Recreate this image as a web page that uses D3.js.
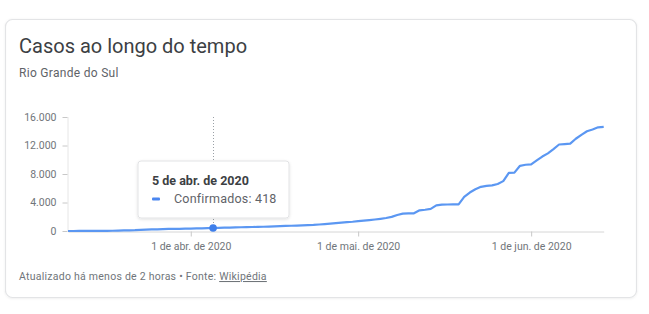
<!DOCTYPE html>
<html>
<head>
<meta charset="utf-8">
<script src="https://cdn.jsdelivr.net/npm/d3@7"></script>
<style>
  html, body { margin: 0; padding: 0; background: #fff; }
  svg { display: block; font-family: Roboto, "Noto Sans", Arial, sans-serif; }
</style>
</head>
<body>
<svg id="chart" width="649" height="314"></svg>
<script>
// Confirmed cases in Rio Grande do Sul, one value per day from 10 Mar 2020
const startDate = "2020-03-10";
const confirmed = [
  1, 2, 4, 6, 9, 14, 19, 28, 37, 56,
  77, 86, 114, 168, 197, 227, 241, 272, 287, 294,
  305, 330, 346, 359, 376, 399, 418, 436, 461, 487,
  510, 526, 544, 560, 571, 598, 622, 656, 684, 713,
  734, 759, 790, 814, 852, 909, 961, 1024, 1098, 1174,
  1237, 1302, 1389, 1460, 1528, 1612, 1711, 1825, 1981, 2250,
  2440, 2460, 2480, 2900, 2980, 3100, 3600, 3700, 3720, 3730,
  3740, 4800, 5400, 5850, 6200, 6330, 6400, 6600, 7000, 8150,
  8200, 9150, 9300, 9350, 9900, 10450, 10900, 11500, 12140, 12200,
  12260, 12950, 13500, 14000, 14250, 14550, 14620
];

const yTickValues = [0, 4000, 8000, 12000, 16000];
const yTickLabels = ["0", "4.000", "8.000", "12.000", "16.000"];
const xTickDates = ["2020-04-01", "2020-05-01", "2020-06-01"];
const xTickLabels = ["1 de abr. de 2020", "1 de mai. de 2020", "1 de jun. de 2020"];

const tooltipDate = "2020-04-05";
const tooltipTitle = "5 de abr. de 2020";
const seriesName = "Confirmados";

const parse = d3.utcParse("%Y-%m-%d");
const t0 = parse(startDate);
const data = confirmed.map((v, i) => ({ date: d3.utcDay.offset(t0, i), value: v }));

const svg = d3.select("#chart");

// Card with a soft shadow
const defs = svg.append("defs");
const cs = defs.append("filter").attr("id", "cardShadow").attr("x", "-5%").attr("y", "-5%").attr("width", "110%").attr("height", "115%");
cs.append("feDropShadow").attr("dx", 0).attr("dy", 0.5).attr("stdDeviation", 1)
  .attr("flood-color", "#000").attr("flood-opacity", 0.08);

svg.append("rect")
  .attr("x", 5.5).attr("y", 19.5).attr("width", 631).attr("height", 278)
  .attr("rx", 7).attr("fill", "#fff").attr("stroke", "#e3e4e6").attr("stroke-width", 1.2)
  .attr("filter", "url(#cardShadow)");

svg.append("text").attr("x", 19).attr("y", 53)
  .attr("font-size", 20).attr("fill", "#3c4043")
  .text("Casos ao longo do tempo");
svg.append("text").attr("x", 19).attr("y", 77)
  .attr("font-size", 12).attr("letter-spacing", 0.3).attr("fill", "#5f6368")
  .text("Rio Grande do Sul");

const x = d3.scaleUtc()
  .domain([data[0].date, data[data.length - 1].date])
  .range([68, 603.7]);
const y = d3.scaleLinear().domain([0, 16000]).range([231, 117]);

// Y axis
const yAxis = d3.axisLeft(y)
  .tickValues(yTickValues)
  .tickFormat((d, i) => yTickLabels[i])
  .tickSize(5).tickPadding(6);
const gy = svg.append("g").attr("transform", "translate(67.5,0)").call(yAxis);
gy.select(".domain").attr("stroke", "#e6e6e6").attr("d", `M0.5,${y(16000)}V${y(0)}`);
gy.selectAll(".tick line").attr("stroke", "#c8c8c8");
gy.selectAll(".tick text").attr("font-size", 10.5).attr("fill", "#70757a")
  .attr("font-family", "Roboto, sans-serif");

// X axis
const xAxis = d3.axisBottom(x)
  .tickValues(xTickDates.map(parse))
  .tickFormat((d, i) => xTickLabels[i])
  .tickSize(5).tickPadding(6).tickSizeOuter(0);
const gx = svg.append("g").attr("transform", "translate(0,231.5)").call(xAxis);
gx.select(".domain").attr("stroke", "#d6d6d6");
gx.selectAll(".tick line").attr("stroke", "#c8c8c8");
gx.selectAll(".tick text").attr("font-size", 10.5).attr("fill", "#70757a")
  .attr("font-family", "Roboto, sans-serif");

// Hover guide
const hx = x(parse(tooltipDate));
svg.append("line")
  .attr("x1", Math.round(hx) + 0.5).attr("x2", Math.round(hx) + 0.5)
  .attr("y1", 117).attr("y2", 231)
  .attr("stroke", "#9aa0a6").attr("stroke-width", 1).attr("stroke-dasharray", "1,2");

// Series line
const line = d3.line().x(d => x(d.date)).y(d => y(d.value));
svg.append("path").datum(data)
  .attr("d", line).attr("fill", "none")
  .attr("stroke", "#5b97f2").attr("stroke-width", 2.2)
  .attr("stroke-linejoin", "round");

const hoverPoint = data.find(d => +d.date === +parse(tooltipDate));
svg.append("circle")
  .attr("cx", x(hoverPoint.date)).attr("cy", y(hoverPoint.value))
  .attr("r", 3.8).attr("fill", "#3f7fea");

// Tooltip
const f = defs.append("filter").attr("id", "shadow").attr("x", "-20%").attr("y", "-20%").attr("width", "140%").attr("height", "150%");
f.append("feDropShadow").attr("dx", 0).attr("dy", 1).attr("stdDeviation", 1.5)
  .attr("flood-color", "#000").attr("flood-opacity", 0.12);

const tip = svg.append("g").attr("transform", "translate(138,161)");
tip.append("rect").attr("width", 151).attr("height", 57).attr("rx", 3)
  .attr("fill", "#fff").attr("stroke", "#e2e3e5").attr("filter", "url(#shadow)");
tip.append("text").attr("x", 14).attr("y", 24)
  .attr("font-size", 12.5).attr("font-weight", "bold").attr("fill", "#3c4043")
  .text(tooltipTitle);
tip.append("rect").attr("x", 14).attr("y", 36.5).attr("width", 8).attr("height", 3).attr("rx", 1)
  .attr("fill", "#4a86f0");
tip.append("text").attr("x", 36).attr("y", 42)
  .attr("font-size", 12.5).attr("letter-spacing", 0.2).attr("fill", "#5f6368")
  .text(`${seriesName}: ${hoverPoint.value}`);

// Footer
const foot = svg.append("text").attr("x", 19).attr("y", 280)
  .attr("font-size", 10.5).attr("letter-spacing", 0.25).attr("fill", "#70757a");
foot.append("tspan").text("Atualizado há menos de 2 horas  •  Fonte: ");
foot.append("tspan").attr("text-decoration", "underline").text("Wikipédia");
</script>
</body>
</html>
